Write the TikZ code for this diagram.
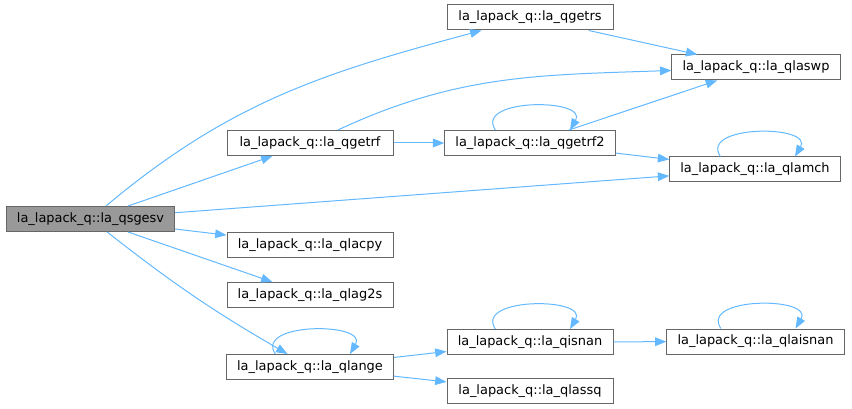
\documentclass[tikz,border=0pt]{standalone}
\usepackage{fontspec}
\setmainfont{DejaVu Sans}
\usetikzlibrary{arrows.meta}
\definecolor{edgeblue}{HTML}{63B8FF}
\definecolor{boxgray}{HTML}{666666}
\definecolor{rootfill}{HTML}{999999}
\tikzset{fn/.style={draw=boxgray,fill=white,line width=.75pt,minimum width=124.5pt,minimum height=18.75pt,inner xsep=8pt,inner ysep=0pt,font=\fontsize{9.7}{11}\selectfont},root/.style={fn,fill=rootfill},arr/.style={-{Triangle[length=8.5pt,width=6.5pt]},draw=edgeblue,line width=.75pt}}
\begin{document}
\begin{tikzpicture}[x=.75pt,y=.75pt]
\useasboundingbox (0,0) rectangle (852,-409);
% callers and callees
\node[root] (sgesv) at (90.5,-219) {la\_lapack\_q::la\_qsgesv};
\node[fn] (getrs) at (530,-17.5) {la\_lapack\_q::la\_qgetrs};\node[fn] (laswp) at (756,-67.5) {la\_lapack\_q::la\_qlaswp};
\node[fn] (getrf) at (310,-143) {la\_lapack\_q::la\_qgetrf};\node[fn] (getrf2) at (530,-143) {la\_lapack\_q::la\_qgetrf2};\node[fn] (lamch) at (755,-169.5) {la\_lapack\_q::la\_qlamch};
\node[fn] (lacpy) at (310,-245) {la\_lapack\_q::la\_qlacpy};\node[fn] (lag2s) at (310,-295) {la\_lapack\_q::la\_qlag2s};
\node[fn] (lange) at (310,-367) {la\_lapack\_q::la\_qlange};\node[fn] (isnan) at (530,-342) {la\_lapack\_q::la\_qisnan};\node[fn] (lassq) at (530,-391) {la\_lapack\_q::la\_qlassq};\node[fn] (laisnan) at (755.5,-341.5) {la\_lapack\_q::la\_qlaisnan};
% calls
\draw[arr] (sgesv) to[out=40,in=195] (getrs);\draw[arr] (getrf) to[out=25,in=182] (laswp);\draw[arr] (sgesv) to[bend right=4] (lange);
\foreach \a/\b in {sgesv/getrf,sgesv/lamch,sgesv/lacpy,sgesv/lag2s,getrf/getrf2,getrf2/laswp,getrf2/lamch,getrs/laswp,lange/isnan,lange/lassq,isnan/laisnan}\draw[arr] (\a)--(\b);
\foreach \n in {getrf2,lamch,lange,isnan,laisnan}\draw[arr] ([xshift=-26pt]\n.north) .. controls +(-16pt,24pt) and +(14pt,24pt) .. ([xshift=30pt]\n.north);
\end{tikzpicture}
\end{document}
